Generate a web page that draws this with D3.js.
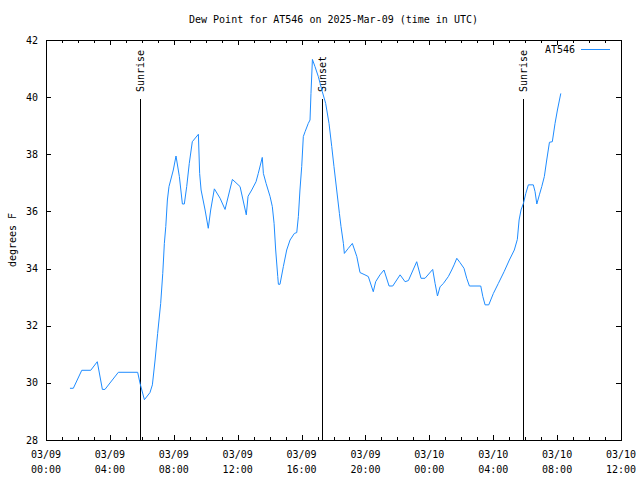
<!DOCTYPE html>
<html>
<head>
<meta charset="utf-8">
<script src="https://cdn.jsdelivr.net/npm/d3@7"></script>
<style>
  html, body { margin: 0; padding: 0; background: #fff; }
  svg { display: block; }
  text { font-family: "DejaVu Sans Mono", "Liberation Mono", monospace; font-size: 10px; fill: #000; }
</style>
</head>
<body>
<svg id="chart" width="640" height="480"></svg>
<script>
// ---- Data (hours after 2025-03-09 00:00 UTC, dew point in °F) ----
const hours = [
  1.50, 1.71, 2.24, 2.80, 3.21, 3.53, 3.69, 4.53, 5.74, 5.89,
  6.16, 6.51, 6.66, 6.83, 6.99, 7.18, 7.31, 7.41, 7.50, 7.60,
  7.70, 7.97, 8.14, 8.35, 8.54, 8.66, 8.81, 8.97, 9.16, 9.54,
  9.62, 9.71, 9.96, 10.16, 10.31, 10.54, 10.90, 11.21, 11.67, 12.15,
  12.54, 12.65, 12.88, 13.15, 13.29, 13.54, 13.61, 13.78, 14.03, 14.17,
  14.28, 14.38, 14.51, 14.55, 14.65, 14.86, 15.07, 15.28, 15.55, 15.70,
  15.80, 15.90, 16.01, 16.11, 16.22, 16.42, 16.53, 16.59, 16.68, 16.84,
  17.05, 17.30, 17.51, 17.72, 17.89, 18.03, 18.20, 18.37, 18.47, 18.62,
  18.68, 18.93, 19.18, 19.46, 19.66, 19.97, 20.18, 20.49, 20.64, 20.91,
  21.16, 21.48, 21.71, 22.17, 22.48, 22.69, 23.21, 23.48, 23.73, 24.21,
  24.36, 24.51, 24.67, 24.88, 25.19, 25.40, 25.55, 25.72, 25.92, 26.17,
  26.34, 26.51, 27.22, 27.35, 27.49, 27.72, 28.01, 28.32, 28.68, 29.01,
  29.32, 29.51, 29.62, 29.74, 29.89, 30.04, 30.20, 30.51, 30.62, 30.73,
  30.89, 31.04, 31.20, 31.35, 31.52, 31.70, 31.87, 32.02, 32.23
];
const dewPoint = [
  29.81, 29.81, 30.44, 30.44, 30.74, 29.77, 29.77, 30.37, 30.37, 29.98,
  29.41, 29.66, 29.93, 30.80, 31.73, 32.78, 33.83, 34.88, 35.47, 36.40,
  36.87, 37.45, 37.94, 37.22, 36.26, 36.26, 36.87, 37.68, 38.44, 38.70,
  37.33, 36.75, 36.05, 35.41, 36.05, 36.79, 36.46, 36.07, 37.12, 36.87,
  35.88, 36.53, 36.75, 37.04, 37.33, 37.89, 37.33, 36.98, 36.52, 36.17,
  35.58, 34.65, 33.72, 33.45, 33.45, 34.07, 34.65, 35.00, 35.23, 35.26,
  35.82, 36.75, 37.57, 38.62, 38.79, 39.08, 39.20, 40.13, 41.32, 41.07,
  40.72, 40.19, 39.78, 39.08, 38.27, 37.57, 36.75, 35.93, 35.47, 34.88,
  34.53, 34.71, 34.88, 34.42, 33.86, 33.78, 33.72, 33.19, 33.54, 33.78,
  33.95, 33.39, 33.39, 33.78, 33.54, 33.58, 34.24, 33.66, 33.66, 33.97,
  33.48, 33.04, 33.36, 33.48, 33.72, 33.95, 34.13, 34.36, 34.21, 34.01,
  33.66, 33.39, 33.39, 33.02, 32.73, 32.73, 33.13, 33.48, 33.89, 34.30,
  34.65, 35.02, 35.70, 36.05, 36.28, 36.63, 36.93, 36.93, 36.69, 36.26,
  36.58, 36.87, 37.22, 37.80, 38.42, 38.44, 39.08, 39.55, 40.13
];
const eventNames = ["Sunrise", "Sunset", "Sunrise"];
const eventHours = [5.89, 17.30, 29.89];
const yTicks = [28, 30, 32, 34, 36, 38, 40, 42];
const seriesName = "AT546";
const titleText = "Dew Point for AT546 on 2025-Mar-09 (time in UTC)";
const yLabel = "degrees F";

// ---- Layout ----
const svg = d3.select("#chart");
const L = 46, R = 621, T = 40, B = 440;
const t0 = Date.UTC(2025, 2, 9, 0, 0);
const toDate = h => new Date(t0 + h * 3600000);
const x = d3.scaleUtc().domain([toDate(0), toDate(36)]).range([L, R]);
const y = d3.scaleLinear().domain([28, 42]).range([B, T]);
const data = hours.map((h, i) => ({ t: toDate(h), v: dewPoint[i] }));
const color = "#1e8cff";

// ticks
const majorT = d3.utcHour.every(4).range(toDate(0), toDate(36.01));
const minorT = d3.utcHour.every(1).range(toDate(0), toDate(36.01));
const g = svg.append("g").attr("shape-rendering", "crispEdges");
minorT.forEach(d => {
  const xx = Math.round(x(d)) + 0.5;
  const isMajor = d.getUTCHours() % 4 === 0;
  const len = isMajor ? 5 : 3;
  g.append("line").attr("x1", xx).attr("x2", xx).attr("y1", B).attr("y2", B - len).attr("stroke", "#000");
  g.append("line").attr("x1", xx).attr("x2", xx).attr("y1", T).attr("y2", T + len).attr("stroke", "#000");
});
yTicks.forEach(v => {
  const yy = Math.round(y(v)) + 0.5;
  g.append("line").attr("x1", L).attr("x2", L + 5).attr("y1", yy).attr("y2", yy).attr("stroke", "#000");
  g.append("line").attr("x1", R).attr("x2", R - 5).attr("y1", yy).attr("y2", yy).attr("stroke", "#000");
  svg.append("text").attr("x", 38).attr("y", y(v)).attr("dy", "0.35em").attr("text-anchor", "end").text(v);
});
const fmtD = d3.utcFormat("%m/%d"), fmtT = d3.utcFormat("%H:%M");
majorT.forEach(d => {
  const tx = svg.append("text").attr("x", x(d)).attr("y", 458).attr("text-anchor", "middle");
  tx.append("tspan").attr("x", x(d)).text(fmtD(d));
  tx.append("tspan").attr("x", x(d)).attr("dy", 15).text(fmtT(d));
});

// border
g.append("rect").attr("x", L + 0.5).attr("y", T + 0.5).attr("width", R - L).attr("height", B - T)
  .attr("fill", "none").attr("stroke", "#000");

// events
eventHours.forEach((h, i) => {
  const xx = Math.round(x(toDate(h))) + 0.5;
  g.append("line").attr("x1", xx).attr("x2", xx).attr("y1", B).attr("y2", 99).attr("stroke", "#000");
  svg.append("text").attr("transform", `translate(${xx},92) rotate(-90)`)
    .attr("dy", "0.35em").attr("text-anchor", "start").text(eventNames[i]);
});

// series line
svg.append("path").datum(data)
  .attr("d", d3.line().x(d => x(d.t)).y(d => y(d.v)))
  .attr("fill", "none").attr("stroke", color).attr("stroke-width", 1);

// legend
svg.append("text").attr("x", 575).attr("y", 49).attr("dy", "0.35em").attr("text-anchor", "end").text(seriesName);
svg.append("line").attr("x1", 581).attr("x2", 610).attr("y1", 49.5).attr("y2", 49.5).attr("stroke", color);

// title & y label
svg.append("text").attr("x", (L + R) / 2).attr("y", 23).attr("text-anchor", "middle").text(titleText);
svg.append("text").attr("transform", "translate(12,240) rotate(-90)").attr("dy", "0.35em")
  .attr("text-anchor", "middle").text(yLabel);
</script>
</body>
</html>
